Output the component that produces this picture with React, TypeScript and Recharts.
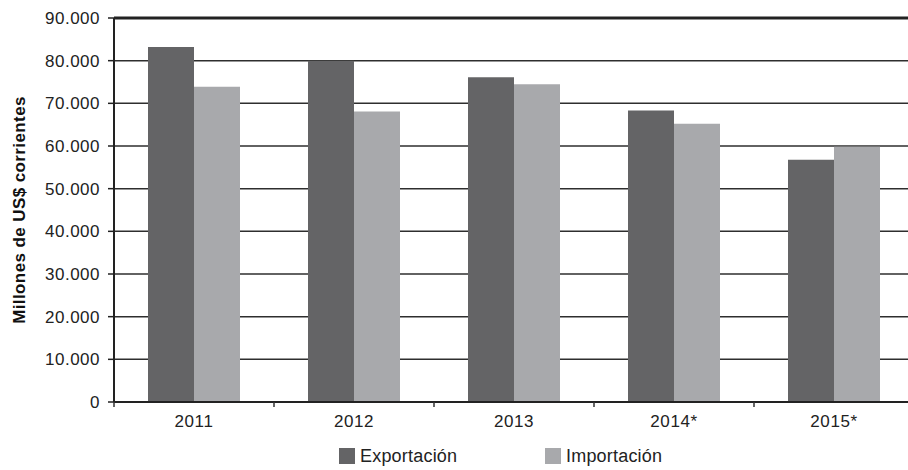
import React from 'react';
import {
  BarChart,
  Bar,
  XAxis,
  YAxis,
  CartesianGrid,
  ReferenceLine,
} from 'recharts';

const years = ['2011', '2012', '2013', '2014*', '2015*'];
const exportacion = [83200, 80000, 76100, 68300, 56800];
const importacion = [73900, 68100, 74500, 65200, 59800];
const yTicks = [0, 10000, 20000, 30000, 40000, 50000, 60000, 70000, 80000, 90000];
const seriesNames = ['Exportación', 'Importación'];
const seriesColors = ['#646466', '#a8a9ac'];

const FONT = '"Liberation Sans", Arial, Helvetica, sans-serif';

const data = years.map((year, i) => ({
  year,
  exp: exportacion[i],
  imp: importacion[i],
}));

const fmt = (v: number) => String(v).replace(/\B(?=(\d{3})+(?!\d))/g, '.');

const XTick = (props: any) => {
  const { x, y, payload, width, visibleTicksCount } = props;
  const band = width / visibleTicksCount;
  const left = x - band / 2;
  return (
    <g>
      <line x1={left} y1={y - 10} x2={left} y2={y - 5} stroke="#333" strokeWidth={1.5} />
      <text
        x={x}
        y={y + 15}
        textAnchor="middle"
        fill="#222"
        fontSize={17}
        letterSpacing={0.6}
        fontFamily={FONT}
      >
        {payload.value}
      </text>
    </g>
  );
};

export default function App() {
  return (
    <div
      style={{
        position: 'absolute',
        left: 0,
        top: 0,
        width: 908,
        height: 470,
        overflow: 'hidden',
        background: '#fff',
        fontFamily: FONT,
      }}
    >
      <BarChart
        width={916}
        height={470}
        data={data}
        margin={{ top: 18, right: 2, bottom: 58, left: 0 }}
        barCategoryGap={34}
        barGap={0}
      >
        <CartesianGrid vertical={false} stroke="#2e2e2e" strokeWidth={1.5} />
        <ReferenceLine y={90000} stroke="#222" strokeWidth={3} />
        <XAxis
          dataKey="year"
          tickLine={false}
          tickSize={4}
          tickMargin={6}
          height={10}
          axisLine={{ stroke: '#222', strokeWidth: 2 }}
          tick={<XTick />}
          interval={0}
        />
        <YAxis
          width={114}
          domain={[0, 90000]}
          ticks={yTicks}
          interval={0}
          tickFormatter={fmt}
          tickSize={6}
          tickMargin={8}
          tickLine={{ stroke: '#222', strokeWidth: 1.5 }}
          axisLine={{ stroke: '#222', strokeWidth: 2 }}
          tick={{ fill: '#222', fontSize: 17, fontFamily: FONT, letterSpacing: 0.5 }}
          label={{
            value: 'Millones de US$ corrientes',
            angle: -90,
            position: 'insideLeft',
            offset: 19,
            style: {
              textAnchor: 'middle',
              fontWeight: 'bold',
              fontSize: 17,
              letterSpacing: 0.4,
              fill: '#111',
              fontFamily: FONT,
            },
          }}
        />
        <Bar dataKey="exp" name={seriesNames[0]} fill={seriesColors[0]} isAnimationActive={false} />
        <Bar dataKey="imp" name={seriesNames[1]} fill={seriesColors[1]} isAnimationActive={false} />
      </BarChart>
      <div style={{ position: 'absolute', left: 339, top: 446, display: 'flex' }}>
        {seriesNames.map((name, i) => (
          <div key={name} style={{ width: 206, display: 'flex', alignItems: 'center' }}>
            <span
              style={{
                display: 'inline-block',
                width: 16,
                height: 16,
                background: seriesColors[i],
                marginRight: 5,
              }}
            />
            <span style={{ fontSize: 18, color: '#222', lineHeight: '20px', letterSpacing: 0.2 }}>
              {name}
            </span>
          </div>
        ))}
      </div>
    </div>
  );
}
